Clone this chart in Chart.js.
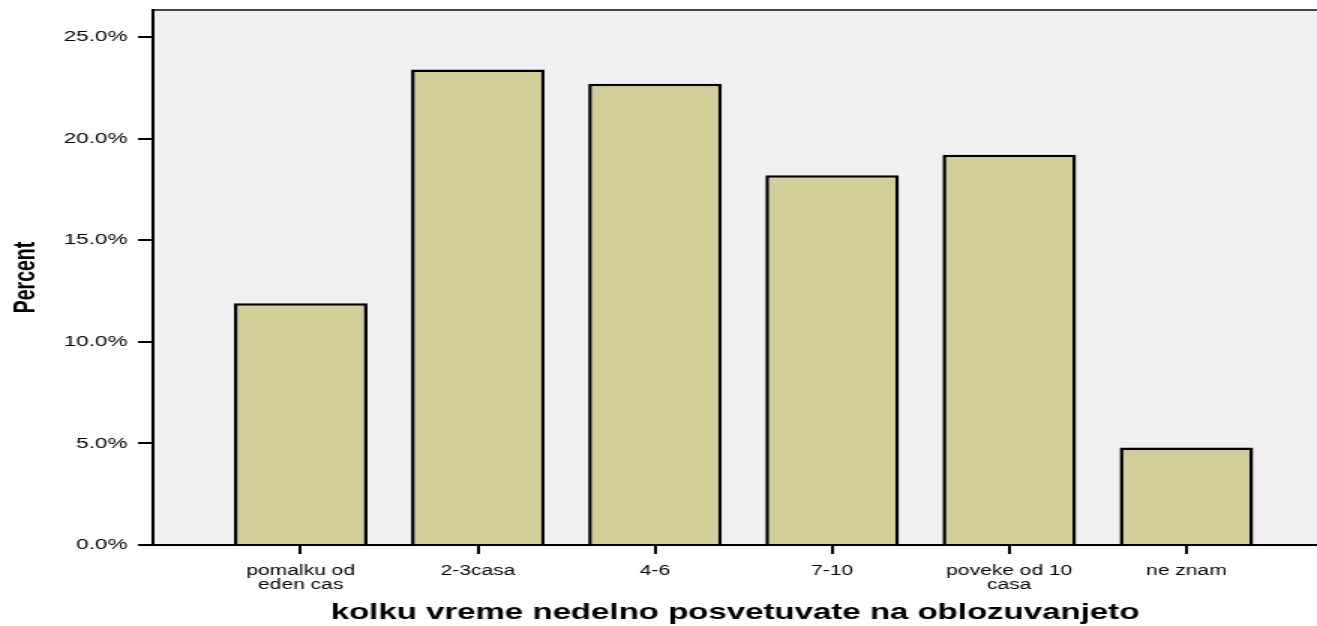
<!DOCTYPE html>
<html>
<head>
<meta charset="utf-8">
<script src="https://cdn.jsdelivr.net/npm/chart.js@4/dist/chart.umd.min.js"></script>
<style>
  html, body { margin: 0; padding: 0; background: #ffffff; }
</style>
</head>
<body>
<!-- the original picture is stretched sideways, so the canvas is drawn narrow and widened by CSS -->
<canvas id="chart" width="878" height="626" style="display:block;width:1317px;height:626px"></canvas>
<script>
// categories on the x axis
const categories = [
    ["pomalku od", "eden cas"],
    "2-3casa",
    "4-6",
    "7-10",
    ["poveke od 10", "casa"],
    "ne znam"
];
// percent for each category
const percents = [11.9, 23.4, 22.7, 18.2, 19.2, 4.8];
// y axis
const yTickStep = 5;
const yMax = 26.33;
const xTitle = "kolku vreme nedelno posvetuvate na oblozuvanjeto";
const yTitle = "Percent";

const mainFont = "'Liberation Sans', Arial, Helvetica, sans-serif";

// grey plot background plus the thin dark line on top
const plotBackground = {
    id: 'plotBackground',
    beforeDraw(chart) {
        const { ctx, chartArea } = chart;
        ctx.save();
        ctx.fillStyle = '#f0f0f0';
        ctx.fillRect(chartArea.left, chartArea.top, chartArea.right - chartArea.left, chartArea.bottom - chartArea.top);
        ctx.strokeStyle = '#474747';
        ctx.lineWidth = 2;
        ctx.beginPath();
        ctx.moveTo(chartArea.left, chartArea.top);
        ctx.lineTo(chartArea.right, chartArea.top);
        ctx.stroke();
        ctx.restore();
    }
};

const ctx = document.getElementById('chart').getContext('2d');
new Chart(ctx, {
    type: 'bar',
    data: {
        datasets: [{
            data: percents.map((v, i) => ({ x: i, y: v })),
            backgroundColor: '#d3ce98',
            borderColor: '#000000',
            borderWidth: 2.5,
            borderSkipped: 'start',
            barPercentage: 0.754,
            categoryPercentage: 1
        }]
    },
    options: {
        responsive: false,
        devicePixelRatio: 1,
        animation: false,
        layout: { padding: { top: 10, right: 0, left: 0, bottom: 0 } },
        plugins: {
            legend: { display: false },
            tooltip: { enabled: false }
        },
        scales: {
            x: {
                type: 'linear',
                min: -0.834,
                max: 5.737,
                offset: false,
                grid: {
                    offset: false,
                    drawOnChartArea: false,
                    drawTicks: true,
                    tickLength: 9,
                    color: '#000000',
                    lineWidth: 2
                },
                border: { display: true, color: '#000000', width: 2 },
                ticks: {
                    stepSize: 1,
                    includeBounds: false,
                    autoSkip: false,
                    maxRotation: 0,
                    padding: 10,
                    color: '#000000',
                    font: { family: mainFont, size: 14, lineHeight: 1 },
                    callback: (v) => (Number.isInteger(v) && categories[v] !== undefined) ? categories[v] : ''
                },
                title: {
                    display: true,
                    text: xTitle,
                    color: '#000000',
                    font: { family: mainFont, size: 22, weight: 'bold', lineHeight: 1.2 },
                    padding: { top: 0, bottom: 0 }
                },
                afterFit: (scale) => {
                    scale.height = 81;
                    scale.paddingLeft = 0;
                    scale.paddingRight = 0;
                }
            },
            y: {
                min: 0,
                max: yMax,
                grid: {
                    drawOnChartArea: false,
                    drawTicks: true,
                    tickLength: 10,
                    color: '#000000',
                    lineWidth: 2
                },
                border: { display: true, color: '#000000', width: 2 },
                ticks: {
                    stepSize: yTickStep,
                    includeBounds: false,
                    padding: 7,
                    color: '#000000',
                    font: { family: mainFont, size: 15 },
                    callback: (v) => v.toFixed(1) + '%'
                },
                title: {
                    display: true,
                    text: yTitle,
                    color: '#000000',
                    font: { family: mainFont, size: 19.5, weight: 'bold', lineHeight: 1.2 },
                    padding: { top: 6, bottom: 0 }
                },
                afterFit: (scale) => {
                    scale.width = 102;
                    scale.paddingTop = 0;
                    scale.paddingBottom = 0;
                }
            }
        }
    },
    plugins: [plotBackground]
});
</script>
</body>
</html>
